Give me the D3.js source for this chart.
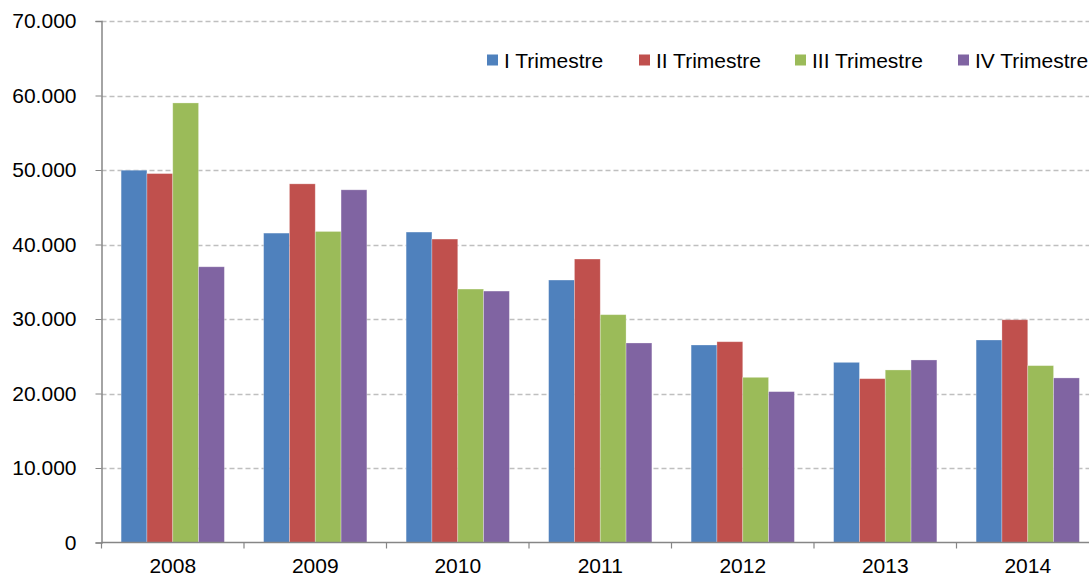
<!DOCTYPE html>
<html>
<head>
<meta charset="utf-8">
<script src="https://cdn.jsdelivr.net/npm/d3@7"></script>
<style>
  body { margin: 0; background: #fff; }
  text { font-family: "Liberation Sans", Arial, sans-serif; fill: #000; }
</style>
</head>
<body>
<svg id="chart" width="1089" height="578"></svg>
<script>
const years = ['2008', '2009', '2010', '2011', '2012', '2013', '2014'];
const series = ['I Trimestre', 'II Trimestre', 'III Trimestre', 'IV Trimestre'];
const trimI   = [49970, 41530, 41670, 35230, 26510, 24180, 27180];
const trimII  = [49520, 48140, 40730, 38050, 26950, 21990, 29900];
const trimIII = [59000, 41750, 34020, 30580, 22170, 23160, 23740];
const trimIV  = [37010, 47340, 33750, 26780, 20250, 24500, 22090];
const yTicks = [0, 10000, 20000, 30000, 40000, 50000, 60000, 70000];

const colors = ['#4F81BD', '#C0504D', '#9BBB59', '#8064A2'];
const values = [trimI, trimII, trimIII, trimIV];

const svg = d3.select('#chart');
const margin = { left: 101.5, top: 21, bottom: 35 };
const height = +svg.attr('height');

const loc = d3.formatLocale({ decimal: ',', thousands: '.', grouping: [3], currency: ['', ''] });
const fmt = loc.format(',');

const x0 = d3.scaleBand().domain(years).range([margin.left, margin.left + 7 * 142.5]).padding(0);
const x1 = d3.scaleBand().domain(series).range([0, x0.bandwidth()]).paddingInner(0).paddingOuter(0.76);
const y = d3.scaleLinear().domain([0, 70000]).range([height - margin.bottom - 0.5, margin.top]);

// gridlines
svg.append('g').selectAll('line')
  .data(yTicks.filter(d => d > 0))
  .enter().append('line')
  .attr('x1', margin.left).attr('x2', 1089)
  .attr('y1', d => Math.round(y(d)) + 0.5).attr('y2', d => Math.round(y(d)) + 0.5)
  .attr('stroke', '#bfbfbf').attr('stroke-width', 1.3)
  .attr('stroke-dasharray', '5,3');

// bars
const groups = svg.append('g').selectAll('g')
  .data(years)
  .enter().append('g')
  .attr('transform', d => `translate(${x0(d)},0)`);

groups.selectAll('rect')
  .data((d, i) => series.map((s, j) => ({ s, j, v: values[j][i] })))
  .enter().append('rect')
  .attr('x', d => x1(d.s))
  .attr('width', x1.bandwidth())
  .attr('y', d => y(d.v))
  .attr('height', d => y(0) - y(d.v))
  .attr('fill', d => colors[d.j])
  .attr('stroke', 'rgba(255,255,255,0.35)')
  .attr('stroke-width', 0.8);

// y axis
const yAxis = svg.append('g')
  .attr('transform', `translate(${margin.left},0)`)
  .call(d3.axisLeft(y).tickValues(yTicks).tickFormat(d => d === 0 ? '0' : fmt(d)).tickSize(6).tickPadding(19));
yAxis.select('.domain').attr('stroke', '#868686').attr('stroke-width', 1.5);
yAxis.selectAll('.tick line').attr('stroke', '#868686');
yAxis.selectAll('text').style('font-size', '21px').attr('fill', '#000');

// x axis
const xAxis = svg.append('g')
  .attr('transform', `translate(0,${y(0)})`);
xAxis.append('line')
  .attr('x1', margin.left).attr('x2', 1089)
  .attr('stroke', '#868686').attr('stroke-width', 1.5);
xAxis.selectAll('.xt')
  .data(years.concat(['end']))
  .enter().append('line')
  .attr('x1', (d, i) => margin.left + i * x0.step())
  .attr('x2', (d, i) => margin.left + i * x0.step())
  .attr('y1', 0).attr('y2', 6)
  .attr('stroke', '#868686').attr('stroke-width', 1.2);
xAxis.selectAll('.xl')
  .data(years)
  .enter().append('text')
  .attr('x', d => x0(d) + x0.bandwidth() / 2)
  .attr('y', 30)
  .attr('text-anchor', 'middle')
  .style('font-size', '21px')
  .text(d => d);

// legend
const legendX = [487, 639, 795, 958];
const legend = svg.append('g').attr('transform', 'translate(0,67.5)');
series.forEach((s, i) => {
  legend.append('rect').attr('x', legendX[i]).attr('y', -13).attr('width', 11).attr('height', 11)
    .attr('fill', colors[i]);
  legend.append('text').attr('x', legendX[i] + 17).attr('y', 0)
    .style('font-size', '21px')
    .text(s);
});
</script>
</body>
</html>
